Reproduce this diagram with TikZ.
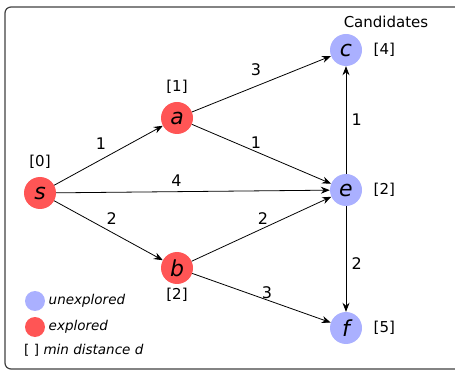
\documentclass[tikz,border=0pt]{standalone}
\usepackage{fontspec}
\setmainfont{DejaVu Sans}
\usetikzlibrary{arrows.meta,positioning}
\definecolor{exploredred}{RGB}{255,85,85}
\definecolor{candblue}{RGB}{170,176,255}

\begin{document}
\begin{tikzpicture}[x=1pt, y=-1pt,
  vertex/.style={circle, minimum size=32pt, inner sep=0pt,
                 font=\fontsize{22}{24}\selectfont\itshape},
  explored/.style={vertex, fill=exploredred},
  unexplored/.style={vertex, fill=candblue},
  dist/.style={font=\fontsize{15}{17}\selectfont},
  weight/.style={font=\fontsize{16}{18}\selectfont},
  legenddot/.style={circle, minimum size=20pt, inner sep=0pt},
  legendtxt/.style={font=\fontsize{13.5}{15}\selectfont\itshape},
  link/.style={->, line width=0.8pt},
  >={Stealth[length=9pt,width=7pt]}]
  \clip (0,0) rectangle (455,371);
  \draw[rounded corners=6pt, line width=1.2pt, black!75] (5,7) rectangle (480,369);

  % graph
  \node[explored]   (s) at (40,193)  {s};
  \node[explored]   (a) at (177,118) {a};
  \node[explored]   (b) at (177,268) {b};
  \node[unexplored] (c) at (346,50)  {c};
  \node[unexplored] (e) at (346,190) {e};
  \node[unexplored] (f) at (346,328) {f};

  \draw[link] (s) -- node[weight, pos=0.43, above=6pt] {1} (a);
  \draw[link] (s) -- node[weight, pos=0.44, above=1pt] {4} (e);
  \draw[link] (s) -- node[weight, pos=0.53, above=4pt] {2} (b);
  \draw[link] (a) -- node[weight, pos=0.46, above=7pt] {3} (c);
  \draw[link] (a) -- node[weight, pos=0.46, above=-1pt] {1} (e);
  \draw[link] (b) -- node[weight, pos=0.51, above=0pt] {2} (e);
  \draw[link] (b) -- node[weight, pos=0.54, above=-2pt] {3} (f);
  \draw[link] (e) -- node[weight, pos=0.5, right=2pt] {1} (c);
  \draw[link] (e) -- node[weight, pos=0.54, right=2pt] {2} (f);

  % distances
  \node[dist, above=5pt of s] (ds) {[0]};
  \node[dist, above=5pt of a] (da) {[1]};
  \node[dist, below=0pt of b] (db) {[2]};
  \node[dist, right=8pt of c] (dc) {[4]};
  \node[dist, right=8pt of e] (de) {[2]};
  \node[dist, right=8pt of f] (df) {[5]};
  \node[font=\fontsize{15}{17}\selectfont] (cand) at (386,22) {Candidates};

  % legend
  \node[legenddot, fill=candblue]    (lunexp) at (35,301) {};
  \node[legendtxt, right=0pt of lunexp] (tunexp) {unexplored};
  \node[legenddot, fill=exploredred] (lexp) at (35,327) {};
  \node[legendtxt, right=0pt of lexp] (texp) {explored};
  \node[legendtxt, anchor=west, inner sep=0pt] (tdist) at (24,350)
      {\upshape[\,\,]\ \itshape min distance d};
\end{tikzpicture}
\end{document}
